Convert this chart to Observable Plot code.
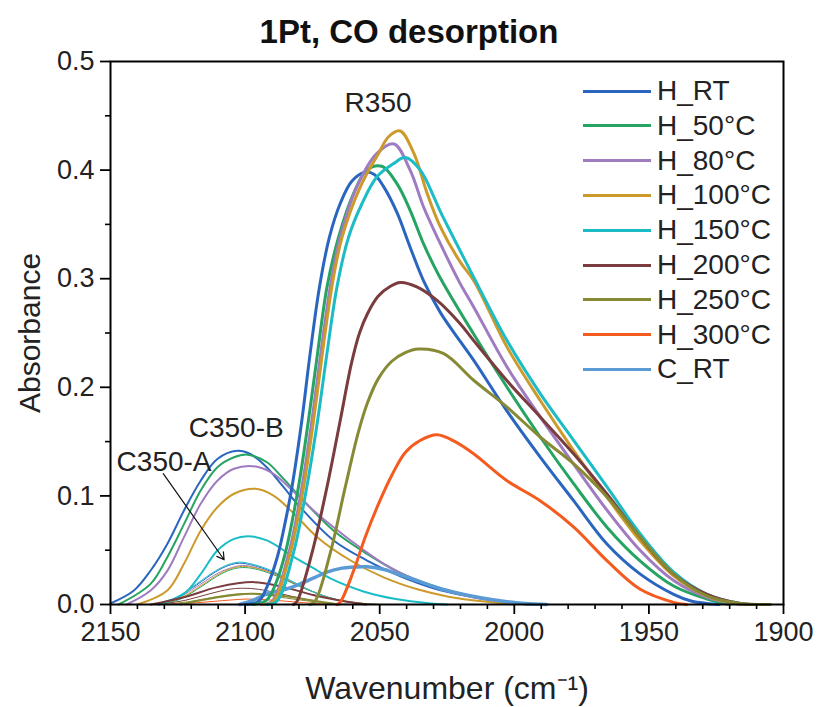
<!DOCTYPE html>
<html><head><meta charset="utf-8">
<script src="https://cdn.jsdelivr.net/npm/d3@7"></script>
<script src="https://cdn.jsdelivr.net/npm/@observablehq/plot@0.6"></script>
<style>
body{margin:0;background:#fff;}
#wrap{position:relative;width:819px;height:707px;font-family:"Liberation Sans",Arial,sans-serif;}
.lg{position:absolute;display:flex;align-items:center;height:32px;font-size:28px;color:#222;white-space:nowrap;}
.lg span.sw{display:inline-block;width:68px;height:3px;margin-right:6px;}
</style></head><body><div id="wrap"></div>
<script>
// ---------- series ----------
const seriesNames = ["H_RT","H_50°C","H_80°C","H_100°C","H_150°C","H_200°C","H_250°C","H_300°C","C_RT"];
const seriesColors = ["#2a66c0","#26a462","#9f7bc2","#cc9a2a","#1cbcc6","#7a3c3e","#878a34","#f45b1f","#5b9bd5"];

// ---------- tick values ----------
const xTicks = [2150, 2100, 2050, 2000, 1950, 1900];
const xMinor = [2140,2130,2120,2110,2090,2080,2070,2060,2040,2030,2020,2010,1990,1980,1970,1960,1940,1930,1920,1910];
const yTicks = [0, 0.1, 0.2, 0.3, 0.4, 0.5];
const yMinor = [0.05, 0.15, 0.25, 0.35, 0.45];

// ---------- R350 components [wavenumber, absorbance] ----------
const H_RT_R350 = [[2100,0],[2095,0.003],[2092,0.0155],[2088,0.044],[2085,0.077],[2082.6,0.108],[2079,0.168],[2076,0.228],[2072.4,0.292],[2068.7,0.338],[2064.7,0.369],[2060.3,0.390],[2055.4,0.398],[2052,0.396],[2048.6,0.385],[2043.6,0.361],[2038.7,0.329],[2033.7,0.298],[2027.5,0.269],[2020,0.242],[2015,0.2245],[2002.7,0.178],[1990.3,0.1355],[1977.9,0.0954],[1965.5,0.0555],[1953.2,0.028],[1940.8,0.0094],[1934,0.003],[1928.4,0.001],[1924,0]];
const H_50_R350 = [[2097,0],[2092,0.004],[2088.5,0.02],[2085.1,0.047],[2080.2,0.108],[2076.5,0.169],[2073.1,0.231],[2069.6,0.292],[2065.3,0.338],[2059.7,0.3785],[2054.8,0.400],[2049.2,0.4035],[2043.6,0.3875],[2038.7,0.363],[2033.7,0.332],[2028,0.303],[2015.1,0.249],[2002.7,0.200],[1990.3,0.154],[1977.9,0.111],[1965.5,0.071],[1953.2,0.040],[1940.8,0.017],[1928.4,0.005],[1920,0]];
const H_80_R350 = [[2094,0],[2090,0.003],[2083.8,0.047],[2078.9,0.108],[2075.2,0.169],[2071.9,0.231],[2068.4,0.292],[2064.7,0.338],[2058.5,0.3846],[2051,0.4154],[2044.7,0.424],[2038.7,0.400],[2033.7,0.366],[2028,0.335],[2020.1,0.2955],[2015.1,0.274],[2002.7,0.2187],[1990.3,0.1725],[1977.9,0.129],[1965.5,0.0866],[1953.2,0.0497],[1940.8,0.022],[1928.4,0.0066],[1916,0]];
const H_100_R350 = [[2093,0],[2089.5,0.003],[2083.3,0.047],[2078.3,0.108],[2074.6,0.169],[2071.3,0.231],[2067.8,0.292],[2064,0.338],[2057.2,0.3846],[2050.4,0.4154],[2046.7,0.4307],[2042.4,0.436],[2037.3,0.4154],[2032.3,0.378],[2027.5,0.348],[2020,0.315],[2015,0.298],[2002.7,0.237],[1990.3,0.1876],[1977.9,0.1415],[1965.5,0.0986],[1953.2,0.0585],[1940.8,0.0263],[1928.4,0.0078],[1916,0.0005],[1912,0]];
const H_150_R350 = [[2092,0],[2088.2,0.003],[2082.1,0.047],[2077.1,0.108],[2073.1,0.169],[2069.6,0.231],[2065.9,0.292],[2061.6,0.338],[2056.6,0.369],[2051,0.3938],[2044.7,0.4062],[2040.4,0.4117],[2034.9,0.400],[2029.9,0.3754],[2027.5,0.362],[2024.9,0.349],[2015.1,0.3015],[2002.7,0.243],[1990.3,0.194],[1977.9,0.151],[1965.5,0.108],[1953.2,0.065],[1940.8,0.0298],[1928.4,0.0094],[1916,0.001],[1910,0]];
const H_200_R350 = [[2082,0],[2080.7,0.003],[2075.2,0.047],[2069.6,0.108],[2064.7,0.169],[2060.5,0.222],[2057.5,0.250],[2054.5,0.268],[2050.5,0.284],[2046,0.293],[2042.4,0.2965],[2036.2,0.2925],[2028.7,0.280],[2020.1,0.2585],[2015.1,0.243],[2002.7,0.206],[1990.3,0.1725],[1977.9,0.1385],[1965.5,0.1016],[1953.2,0.0618],[1940.8,0.028],[1928.4,0.0094],[1916,0.001],[1905,0]];
const H_250_R350 = [[2076,0],[2074,0.003],[2068.4,0.047],[2062.8,0.108],[2058,0.158],[2054.5,0.186],[2050.5,0.208],[2045.5,0.224],[2040.5,0.232],[2035.6,0.2353],[2026.2,0.231],[2015.1,0.2065],[2002.7,0.1818],[1990.3,0.154],[1977.9,0.1295],[1965.5,0.0988],[1953.2,0.062],[1940.8,0.028],[1928.4,0.008],[1916,0.001],[1905,0]];
const H_300_R350 = [[2066,0],[2064.7,0.002],[2059.7,0.031],[2055.4,0.062],[2050.4,0.0928],[2045.5,0.119],[2040.5,0.140],[2035,0.151],[2028.7,0.1563],[2022,0.150],[2015.1,0.1388],[2002.7,0.114],[1990.3,0.0954],[1977.9,0.0712],[1965.5,0.0402],[1953.2,0.014],[1940.8,0.002],[1936,0]];

// ---------- C350-B components ----------
const H_RT_C350B = [[2150,0.001],[2141.3,0.0129],[2135.1,0.0313],[2128.9,0.0558],[2122.7,0.0866],[2116.5,0.114],[2110.3,0.134],[2102.9,0.1415],[2098.1,0.1386],[2091.9,0.1262],[2085.7,0.108],[2079.5,0.0896],[2067.1,0.059],[2054.7,0.0405],[2042.3,0.026],[2030,0.015],[2018,0.008],[2005,0.003],[1995,0]];
const H_50_C350B = [[2147,0],[2135.1,0.019],[2128.9,0.0436],[2122.7,0.074],[2116.5,0.105],[2110.3,0.1264],[2104.1,0.1356],[2099.1,0.138],[2091.9,0.131],[2085.7,0.1157],[2079.5,0.0988],[2067.1,0.068],[2054.7,0.0467],[2042.3,0.029],[2030,0.017],[2018,0.009],[2005,0.003],[1993,0]];
const H_80_C350B = [[2144,0],[2135.1,0.0129],[2128.9,0.031],[2122.7,0.062],[2116.5,0.0927],[2110.3,0.114],[2104.1,0.125],[2096,0.127],[2089.3,0.120],[2081.8,0.1035],[2073.2,0.0835],[2060.8,0.059],[2048.5,0.0375],[2036,0.022],[2024,0.012],[2012,0.005],[1998,0.001],[1992,0]];
const H_100_C350B = [[2140,0],[2128.9,0.0129],[2122.7,0.0375],[2116.5,0.068],[2110.3,0.0896],[2104.1,0.102],[2096,0.1065],[2089.3,0.100],[2081.8,0.0835],[2073.2,0.062],[2060.8,0.0405],[2048.5,0.025],[2036,0.014],[2024,0.007],[2012,0.003],[2000,0]];
const H_150_C350B = [[2132,0],[2122.7,0.0098],[2116.5,0.028],[2110.3,0.0497],[2104.1,0.0604],[2098.8,0.0629],[2091.9,0.059],[2081.8,0.0436],[2073.2,0.0313],[2068.3,0.024],[2056,0.012],[2044,0.005],[2031,0.001],[2025,0]];
const H_200_C350B = [[2135,0],[2122.7,0.0067],[2110.3,0.016],[2096.7,0.0206],[2085.7,0.016],[2073.2,0.0078],[2060.8,0.002],[2055,0]];
const H_250_C350B = [[2124,0],[2110.3,0.0067],[2098,0.010],[2085.7,0.0078],[2073.2,0.003],[2065,0]];

// ---------- C350-A components ----------
const H_RT_C350A = [[2134,0],[2126,0.006],[2118,0.018],[2111,0.030],[2106,0.036],[2102,0.038],[2097,0.036],[2090,0.030],[2083,0.021],[2075,0.012],[2067,0.005],[2058,0.001],[2052,0]];
const H_50_C350A = [[2132,0],[2124,0.005],[2116,0.017],[2109,0.028],[2104,0.033],[2100,0.034],[2095,0.032],[2088,0.026],[2081,0.018],[2073,0.010],[2065,0.004],[2056,0.001],[2050,0]];
const H_80_C350A = [[2133,0],[2125,0.006],[2117,0.018],[2110,0.029],[2105,0.034],[2101,0.036],[2096,0.034],[2089,0.028],[2082,0.020],[2074,0.011],[2066,0.004],[2057,0.001],[2051,0]];
const H_100_C350A = [[2132,0],[2124,0.006],[2116,0.018],[2109,0.029],[2104,0.034],[2100,0.035],[2095,0.033],[2088,0.027],[2081,0.019],[2073,0.010],[2065,0.004],[2056,0.001],[2050,0]];
const H_150_C350A = [[2134,0],[2126,0.006],[2118,0.019],[2111,0.031],[2106,0.037],[2102,0.039],[2097,0.037],[2090,0.031],[2083,0.022],[2075,0.012],[2067,0.005],[2058,0.001],[2052,0]];
const H_200_C350A = [[2132,0],[2122,0.004],[2113,0.010],[2106,0.014],[2101,0.015],[2095,0.014],[2087,0.010],[2078,0.005],[2068,0.001],[2060,0]];
const H_250_C350A = [[2130,0],[2120,0.003],[2111,0.007],[2104,0.0095],[2099,0.010],[2093,0.009],[2085,0.006],[2076,0.003],[2066,0]];
const H_300_C350A = [[2128,0],[2116,0.002],[2106,0.004],[2099,0.005],[2090,0.004],[2080,0.002],[2068,0]];

// ---------- C_RT ----------
const C_RT_curve = [[2102,0],[2097,0.004],[2091.9,0.0098],[2085,0.014],[2079.5,0.019],[2074,0.025],[2069.6,0.0298],[2064,0.0335],[2060.9,0.0344],[2054.6,0.0347],[2048,0.032],[2042,0.027],[2035,0.021],[2028,0.015],[2020,0.010],[2012,0.006],[2004,0.003],[1996,0.001],[1988,0]];

// ---------- annotations ----------
const annoText = ["R350", "C350-B", "C350-A"];
const annoX = [2050.6, 2103.3, 2130.1];
const annoY = [0.4617, 0.1622, 0.131];
const arrowFrom = [2130.4, 0.1205];
const arrowTo = [2107.8, 0.0412];

// ---------- build table ----------
const components = [
  ["H_RT","A",H_RT_C350A],["H_50°C","A",H_50_C350A],["H_80°C","A",H_80_C350A],["H_100°C","A",H_100_C350A],
  ["H_150°C","A",H_150_C350A],["H_200°C","A",H_200_C350A],["H_250°C","A",H_250_C350A],["H_300°C","A",H_300_C350A],
  ["H_RT","B",H_RT_C350B],["H_50°C","B",H_50_C350B],["H_80°C","B",H_80_C350B],["H_100°C","B",H_100_C350B],
  ["H_150°C","B",H_150_C350B],["H_200°C","B",H_200_C350B],["H_250°C","B",H_250_C350B],
  ["C_RT","C",C_RT_curve],
  ["H_RT","R",H_RT_R350],["H_50°C","R",H_50_R350],["H_80°C","R",H_80_R350],["H_100°C","R",H_100_R350],
  ["H_150°C","R",H_150_R350],["H_200°C","R",H_200_R350],["H_250°C","R",H_250_R350],["H_300°C","R",H_300_R350]
];
const rows = components.flatMap(([s, part, pts], ci) => pts.map(([w, a]) => ({series: s, part, key: ci, w, a})));
const partRows = p => rows.filter(d => d.part === p);

const font = "'Liberation Sans', Arial, sans-serif";
const crv = "catmull-rom";
const chart = Plot.plot({
  width: 819, height: 707,
  marginLeft: 110, marginRight: 36, marginTop: 61, marginBottom: 103,
  style: {fontFamily: font, background: "white", overflow: "visible"},
  x: {domain: [2150, 1900]},
  y: {domain: [0, 0.5]},
  color: {domain: seriesNames, range: seriesColors},
  marks: [
    Plot.line(partRows("A"), {x: "w", y: "a", z: "key", stroke: "series", strokeWidth: 1, curve: crv}),
    Plot.line(partRows("B"), {x: "w", y: "a", z: "key", stroke: "series", strokeWidth: 2, curve: crv}),
    Plot.line(partRows("C"), {x: "w", y: "a", z: "key", stroke: "series", strokeWidth: 3.5, curve: crv}),
    Plot.line(partRows("R"), {x: "w", y: "a", z: "key", stroke: "series", strokeWidth: 3, curve: crv}),
    Plot.frame({stroke: "black", strokeWidth: 2}),
    Plot.axisX(xMinor, {tickSize: 5, tickFormat: () => "", label: null, strokeWidth: 1.6}),
    Plot.axisX(xTicks, {tickSize: 10, tickPadding: 7, fontSize: 27, label: null, strokeWidth: 1.8, fill: "#222", tickFormat: d3.format("d")}),
    Plot.axisY(yMinor, {tickSize: 5, tickFormat: () => "", label: null, strokeWidth: 1.6}),
    Plot.axisY(yTicks, {tickSize: 10, tickPadding: 6, fontSize: 27, label: null, strokeWidth: 1.8, fill: "#222", tickFormat: d3.format(".1f")}),
    Plot.text(annoText, {x: (d, i) => annoX[i], y: (d, i) => annoY[i], text: d => d, fontSize: 28, fill: "#222"}),
    Plot.arrow([0], {x1: () => arrowFrom[0], y1: () => arrowFrom[1], x2: () => arrowTo[0], y2: () => arrowTo[1], stroke: "#111", strokeWidth: 1.2, headLength: 10}),
    Plot.text(["Absorbance"], {text: d => d, frameAnchor: "left", textAnchor: "middle", lineAnchor: "middle", rotate: -90, dx: -80, fontSize: 30, fill: "#222"}),
    Plot.text(["Wavenumber (cm⁻¹)"], {text: d => d, frameAnchor: "bottom", lineAnchor: "middle", dy: 84, fontSize: 32, fill: "#222"}),
    Plot.text(["1Pt, CO desorption"], {text: d => d, frameAnchor: "top", lineAnchor: "middle", dx: -38, dy: -29, fontSize: 33, fontWeight: "bold", fill: "#111"})
  ]
});
const wrap = document.getElementById("wrap");
wrap.appendChild(chart);

// legend (inside plot area, top-right)
seriesNames.forEach((name, i) => {
  const row = document.createElement("div");
  row.className = "lg";
  row.style.left = "583px";
  row.style.top = (91.2 + i * 34.76 - 16) + "px";
  const sw = document.createElement("span");
  sw.className = "sw";
  sw.style.background = seriesColors[i];
  row.appendChild(sw);
  row.appendChild(document.createTextNode(name));
  wrap.appendChild(row);
});
</script></body></html>
